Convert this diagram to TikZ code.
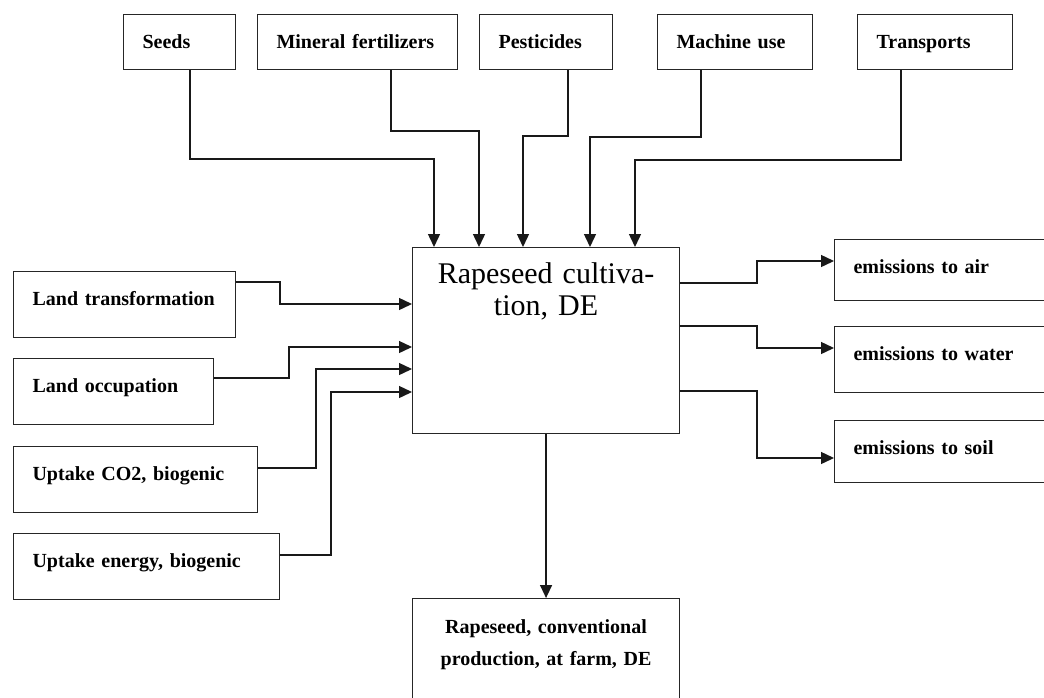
\documentclass[tikz,border=0pt]{standalone}
\usepackage{fontspec}
\setmainfont{Liberation Serif}
\usetikzlibrary{arrows.meta}

\begin{document}
\begin{tikzpicture}[x=1pt, y=-1pt,
  every node/.style={line width=1.1pt, draw=black!85},
  flowbox/.style={draw, anchor=north west, inner xsep=19pt, inner ysep=0pt,
    align=left, text height=34pt, font=\bfseries\fontsize{20}{24}\selectfont},
  mainbox/.style={draw, anchor=north west, inner xsep=0pt, inner ysep=0pt,
    align=center, text width=267pt},
  arr/.style={line width=1.4pt, draw=black!90,
    -{Triangle[length=13pt, width=12pt]}}]

\useasboundingbox (0,0) rectangle (1044,697);
\clip (0,0) rectangle (1044,697);
\fill[white] (0,0) rectangle (1044,697);

% inputs from the technosphere
\node[flowbox, text width=74pt,  text depth=21pt] (seeds) at (123,14) {Seeds};
\node[flowbox, text width=162pt, text depth=21pt] (mineral) at (257,14) {\mbox{Mineral fertilizers}};
\node[flowbox, text width=95pt,  text depth=21pt] (pest) at (479,14) {Pesticides};
\node[flowbox, text width=117pt, text depth=21pt] (mach) at (657,14) {\mbox{Machine use}};
\node[flowbox, text width=117pt, text depth=21pt] (trans) at (857,14) {Transports};

% inputs from nature
\node[flowbox, text width=184pt, text depth=32pt] (ltrans) at (13,271) {\mbox{Land transformation}};
\node[flowbox, text width=162pt, text depth=32pt] (locc) at (13,358) {\mbox{Land occupation}};
\node[flowbox, text width=206pt, text depth=32pt] (co2) at (13,446) {\mbox{Uptake CO2, biogenic}};
\node[flowbox, text width=228pt, text depth=32pt] (energy) at (13,533) {\mbox{Uptake energy, biogenic}};

% process
\node[mainbox, text height=36pt, text depth=150pt,
  font=\fontsize{30}{32}\selectfont] (proc) at (412,247) {Rapeseed cultiva-\\tion, DE};

% emissions
\node[flowbox, text width=192pt, text depth=27pt] (air) at (834,239) {\mbox{emissions to air}};
\node[flowbox, text width=192pt, text depth=32pt] (water) at (834,326) {\mbox{emissions to water}};
\node[flowbox, text width=192pt, text depth=28pt] (soil) at (834,420) {\mbox{emissions to soil}};

% product
\node[mainbox, text height=35pt, text depth=90pt,
  font=\bfseries\fontsize{20}{32}\selectfont] (prod) at (412,598)
  {Rapeseed, conventional\\production, at farm, DE};

% bends of the connectors
\coordinate (t1) at (434,159);
\coordinate (t2) at (479,131);
\coordinate (t3) at (523,136);
\coordinate (t4) at (590,137);
\coordinate (t5) at (635,160);
\coordinate (l1) at (280,304);
\coordinate (l2) at (289,347);
\coordinate (l3) at (316,369);
\coordinate (l4) at (331,392);
\coordinate (r1) at (757,261);
\coordinate (r2) at (757,348);
\coordinate (r3) at (757,458);

% top inputs
\draw[arr] ([xshift=67pt]seeds.south west) |- (t1) -- (t1 |- proc.north);
\draw[arr] ([xshift=134pt]mineral.south west) |- (t2) -- (t2 |- proc.north);
\draw[arr] ([xshift=89pt]pest.south west) |- (t3) -- (t3 |- proc.north);
\draw[arr] ([xshift=44pt]mach.south west) |- (t4) -- (t4 |- proc.north);
\draw[arr] ([xshift=44pt]trans.south west) |- (t5) -- (t5 |- proc.north);

% left inputs
\draw[arr] ([yshift=-11pt]ltrans.north east) -| (l1) -- (l1 -| proc.west);
\draw[arr] ([yshift=-20pt]locc.north east) -| (l2) -- (l2 -| proc.west);
\draw[arr] ([yshift=-22pt]co2.north east) -| (l3) -- (l3 -| proc.west);
\draw[arr] ([yshift=-22pt]energy.north east) -| (l4) -- (l4 -| proc.west);

% outputs
\draw[arr] ([yshift=-36pt]proc.north east) -| (r1) -- (r1 -| air.west);
\draw[arr] ([yshift=-79pt]proc.north east) -| (r2) -- (r2 -| water.west);
\draw[arr] ([yshift=-144pt]proc.north east) -| (r3) -- (r3 -| soil.west);
\draw[arr] (proc.south) -- (prod.north);

\end{tikzpicture}
\end{document}
